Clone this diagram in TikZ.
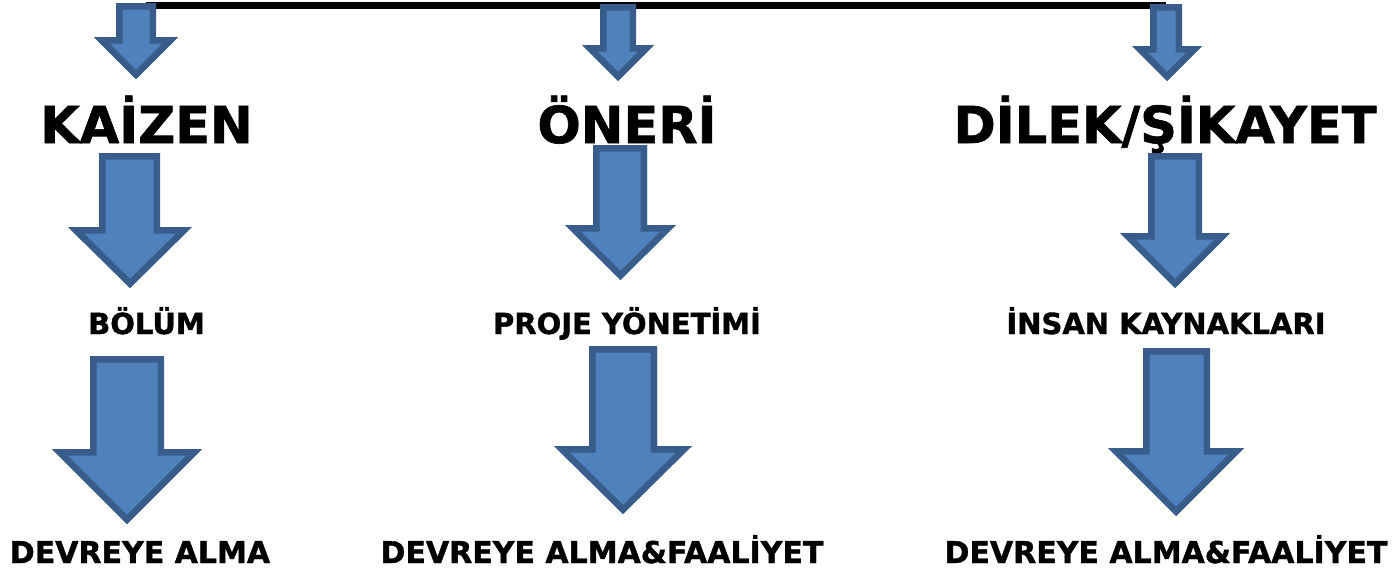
\documentclass[tikz,border=0pt]{standalone}
\usepackage{fontspec}
\setmainfont{DejaVu Sans}[BoldFeatures={FakeBold=1.3}]
\definecolor{afill}{HTML}{4F81BD}
\definecolor{aline}{HTML}{385D8A}
\newcommand\blockdn[7]{% shaft x1, shaft x2, top y, shoulder y, head x1, head x2, tip y
  \begin{scope}
    \clip (#1,#3) -- (#2,#3) -- (#2,#4) -- (#6,#4) -- ({(#5+#6)/2},#7) -- (#5,#4) -- (#1,#4) -- cycle;
    \fill[afill] (#1,#3) -- (#2,#3) -- (#2,#4) -- (#6,#4) -- ({(#5+#6)/2},#7) -- (#5,#4) -- (#1,#4) -- cycle;
    \draw[aline, line width=13pt, line join=miter] (#1,#3) -- (#2,#3) -- (#2,#4) -- (#6,#4) -- ({(#5+#6)/2},#7) -- (#5,#4) -- (#1,#4) -- cycle;
  \end{scope}}
\tikzset{
  title/.style={anchor=base, inner sep=0pt, font=\fontsize{51}{51}\selectfont\bfseries},
  mid/.style={anchor=base, inner sep=0pt, font=\fontsize{29}{29}\selectfont\bfseries},
  low/.style={anchor=base, inner sep=0pt, font=\fontsize{30}{30}\selectfont\bfseries}
}
\begin{document}
\begin{tikzpicture}[x=1pt,y=-1pt]
\useasboundingbox (0,0) rectangle (1396,571);
% top bar
\coordinate (barL) at (146,5.7);
\coordinate (barR) at (1166,5.7);
\draw[black, line width=7pt] (barL) -- (barR);
% top arrows
\blockdn{116}{156}{3}{37}{94}{178}{79}
\blockdn{600}{636}{4}{45}{582}{654}{81}
\blockdn{1150}{1182}{4}{46}{1132}{1202}{81}
% titles
\node[title] (kaizen) at (146.5,143) {KAİZEN};
\node[title] (oneri) at (627,143) {ÖNERİ};
\node[title] (dilek) at (1165,143) {DİLEK/ŞİKAYET};
% middle arrows
\blockdn{99}{160}{153}{227}{68}{192}{288}
\blockdn{593}{647}{145}{225}{565}{676}{280}
\blockdn{1148}{1202}{153}{233}{1120}{1230}{288}
% second row
\node[mid] (bolum) at (146.5,334) {BÖLÜM};
\node[mid] (proje) at (627,334) {PROJE YÖNETİMİ};
\node[mid] (insan) at (1166,334) {İNSAN KAYNAKLARI};
% bottom arrows
\blockdn{90}{164}{356}{449}{52}{202}{524}
\blockdn{589}{657}{346}{446}{554}{692}{514}
\blockdn{1143}{1210}{348}{448}{1108}{1244}{516}
% bottom row
\node[low] (dev1) at (140,563) {DEVREYE ALMA};
\node[low] (dev2) at (602,563) {DEVREYE ALMA\&FAALİYET};
\node[low] (dev3) at (1166,563) {DEVREYE ALMA\&FAALİYET};
\end{tikzpicture}
\end{document}
